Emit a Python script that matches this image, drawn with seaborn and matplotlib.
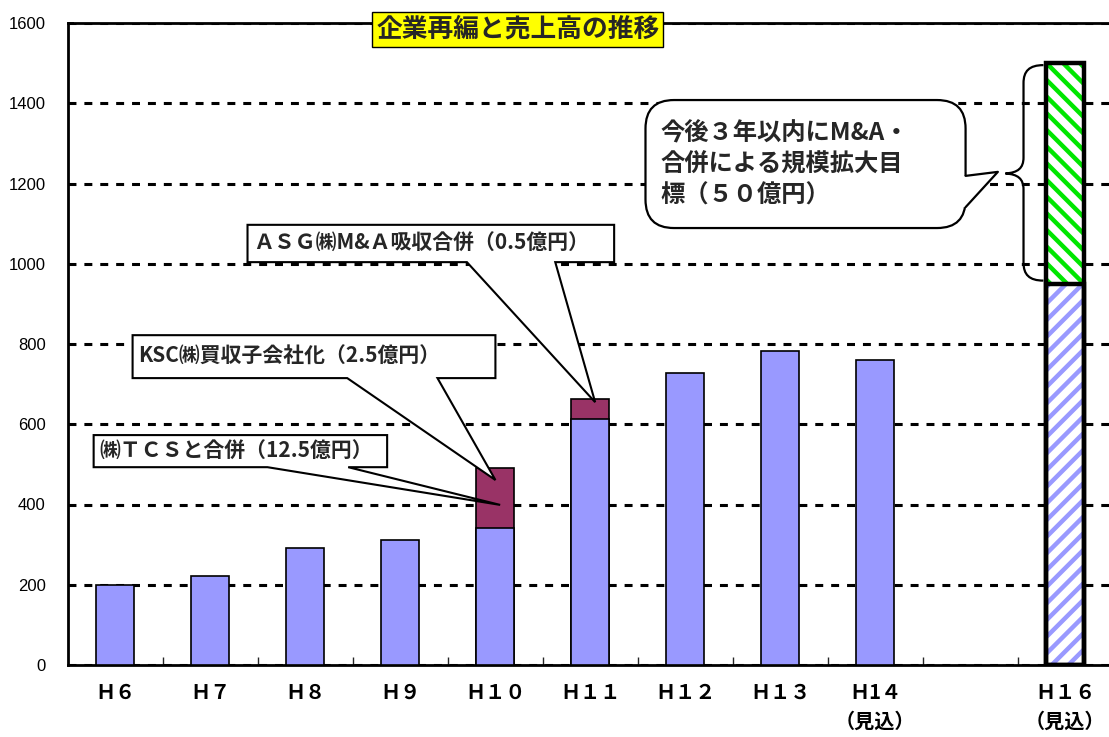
import numpy as np
import pandas as pd
import matplotlib
matplotlib.use("Agg")
import matplotlib.pyplot as plt
import seaborn as sns
from matplotlib.patches import Polygon, FancyBboxPatch, PathPatch
from matplotlib.path import Path

# ---------------- data ----------------
categories = ["H6", "H7", "H8", "H9", "H10", "H11", "H12", "H13", "H14", "H16"]
tick_labels = ["Ｈ６", "Ｈ７", "Ｈ８", "Ｈ９", "Ｈ１０", "Ｈ１１", "Ｈ１２", "Ｈ１３",
               "Ｈ1４\n（見込）", "Ｈ１６\n（見込）"]
sales_cats = ["H6", "H7", "H8", "H9", "H10", "H11", "H12", "H13", "H14"]
sales = [200, 222, 292, 311, 342, 613, 728, 783, 759]
acq_cats = ["H10", "H11"]
acq_amount = [150, 50]
target_cat = "H16"
target_base = 950
target_total = 1500

title = "企業再編と売上高の推移"
note_asg = "ＡＳＧ㈱M&Ａ吸収合併（0.5億円）"
note_ksc = "KSC㈱買収子会社化（2.5億円）"
note_tcs = "㈱ＴＣＳと合併（12.5億円）"
bubble_lines = "今後３年以内にM&A・\n合併による規模拡大目\n標（５０億円）"

# ---------------- style ----------------
BLUE = "#9999FF"
MAROON = "#993366"
GREEN = "#00E600"
JP = ["Noto Sans CJK JP", "DejaVu Sans"]

sns.set_theme(style="white")
plt.rcParams["font.family"] = ["Liberation Sans", "Noto Sans CJK JP", "DejaVu Sans"]
plt.rcParams["hatch.linewidth"] = 3.2

fig = plt.figure(figsize=(11.09, 7.37), dpi=100)
ax = fig.add_axes([68 / 1109, 72 / 737, 1041 / 1109, 642 / 737])

order = categories[:9] + [" "] + categories[9:]

df_sales = pd.DataFrame({"cat": sales_cats, "val": sales})
sales_map = dict(zip(sales_cats, sales))
df_tot = pd.DataFrame({"cat": acq_cats,
                       "val": [sales_map[c] + a for c, a in zip(acq_cats, acq_amount)]})
df_ttot = pd.DataFrame({"cat": [target_cat], "val": [target_total]})
df_tbase = pd.DataFrame({"cat": [target_cat], "val": [target_base]})

common = dict(x="cat", y="val", order=order, width=0.4, errorbar=None, ax=ax, zorder=3)

sns.barplot(data=df_tot, color=MAROON, saturation=1, edgecolor="black", linewidth=1.2, **common)
sns.barplot(data=df_sales, color=BLUE, saturation=1, edgecolor="black", linewidth=1.2, **common)
n0 = len(ax.patches)
sns.barplot(data=df_ttot, color="white", saturation=1, edgecolor=GREEN, linewidth=0,
            hatch="\\\\", **common)
sns.barplot(data=df_tbase, color="white", saturation=1, edgecolor=BLUE, linewidth=0,
            hatch="//", **common)
for p in ax.patches[n0:]:
    p.set_facecolor("white")
sns.barplot(data=df_ttot, fill=False, color="black", linewidth=3.2, **common)
sns.barplot(data=df_tbase, fill=False, color="black", linewidth=3.2, **common)

# ---------------- axes ----------------
ax.set_xlim(-0.5, 10.46)
ax.set_ylim(0, 1600)
ax.set_xlabel("")
ax.set_ylabel("")
ax.set_yticks(range(0, 1601, 200))
ax.yaxis.grid(True, color="black", linestyle=(0, (2.6, 2.6)), linewidth=2.2)
ax.xaxis.grid(False)
ax.set_axisbelow(True)
for s in ["left", "bottom", "top"]:
    ax.spines[s].set_visible(True)
    ax.spines[s].set_color("black")
    ax.spines[s].set_linewidth(2.0)
ax.spines["right"].set_visible(False)

ax.tick_params(axis="y", direction="in", length=4, width=1.2, pad=16, labelsize=12,
               colors="black", left=True)
ax.set_xticks(range(len(order)))
labels_full = tick_labels[:9] + [" "] + tick_labels[9:]
ax.set_xticklabels(labels_full, fontsize=14.5, fontweight="bold", family=JP, linespacing=1.45)
ax.tick_params(axis="x", length=0, pad=12, colors="black")
ax.set_xticks(np.arange(0.5, 10, 1), minor=True)
ax.tick_params(axis="x", which="minor", direction="in", length=6, width=1, bottom=True)

# ---------------- title ----------------
ax.text(0.432, 0.99, title, transform=ax.transAxes, ha="center", va="center",
        fontsize=18.5, fontweight="bold", family=JP, zorder=10,
        bbox=dict(boxstyle="square,pad=0.14", fc="yellow", ec="black", lw=1))

# ---------------- callouts ----------------
def callout(x0, x1, y0, y1, wb0, wb1, tip, text, fs):
    verts = [(x0, y1), (x1, y1), (x1, y0), (wb1, y0), tip, (wb0, y0), (x0, y0)]
    ax.add_patch(Polygon(verts, closed=True, facecolor="white", edgecolor="black",
                         lw=1.5, zorder=6, clip_on=False))
    ax.text(x0 + 0.06, (y0 + y1) / 2, text, ha="left", va="center", fontsize=fs,
            fontweight="bold", family=JP, zorder=7)

callout(1.39, 5.25, 1004, 1097, 3.70, 4.63, (5.05, 655), note_asg, 15)
callout(0.18, 4.00, 715, 822, 2.44, 3.39, (4.00, 461), note_ksc, 15)
callout(-0.23, 2.86, 493, 573, 1.60, 2.45, (4.05, 399), note_tcs, 15)

# ---------------- speech bubble ----------------
bx0, bx1, by0, by1 = 5.58, 8.95, 1089, 1408
bbox_ax = ax.get_window_extent()
xr = ax.get_xlim()[1] - ax.get_xlim()[0]
yr = ax.get_ylim()[1] - ax.get_ylim()[0]
asp = (yr / bbox_ax.height) / (xr / bbox_ax.width)
ax.add_patch(FancyBboxPatch((bx0, by0), bx1 - bx0, by1 - by0,
                            boxstyle="round,pad=0,rounding_size=0.3",
                            mutation_aspect=asp, facecolor="white",
                            edgecolor="black", lw=1.6, zorder=6))
tail_a, tail_b, tip_b = 1219, 1141, (9.29, 1229)
ax.add_patch(Polygon([(bx1 - 0.03, tail_a), (bx1, tail_a), tip_b, (bx1, tail_b),
                      (bx1 - 0.03, tail_b)], closed=True, facecolor="white",
                     edgecolor="none", zorder=7))
ax.plot([bx1, tip_b[0], bx1], [tail_a, tip_b[1], tail_b], color="black", lw=1.6, zorder=8)
ax.text(5.74, 1248, bubble_lines, ha="left", va="center", fontsize=17.5, fontweight="bold",
        family=JP, linespacing=1.38, zorder=9)

# ---------------- brace ----------------
xe, xv, xt = 9.77, 9.56, 9.37
ym = (target_total + target_base) / 2
yt, yb = target_total - 5, target_base + 8
verts = [(xe, yt), (xe - 0.15, yt), (xv, yt - 15), (xv, yt - 45),
         (xv, ym + 40),
         (xv, ym + 13), (xv - 0.06, ym + 2), (xt, ym),
         (xv - 0.06, ym - 2), (xv, ym - 13), (xv, ym - 40),
         (xv, yb + 45),
         (xv, yb + 15), (xe - 0.15, yb), (xe, yb)]
codes = [Path.MOVETO, Path.CURVE4, Path.CURVE4, Path.CURVE4,
         Path.LINETO,
         Path.CURVE4, Path.CURVE4, Path.CURVE4,
         Path.CURVE4, Path.CURVE4, Path.CURVE4,
         Path.LINETO,
         Path.CURVE4, Path.CURVE4, Path.CURVE4]
ax.add_patch(PathPatch(Path(verts, codes), facecolor="none", edgecolor="black", lw=1.6,
                       zorder=6, clip_on=False))

fig.savefig("out.png", dpi=100, facecolor="white")
